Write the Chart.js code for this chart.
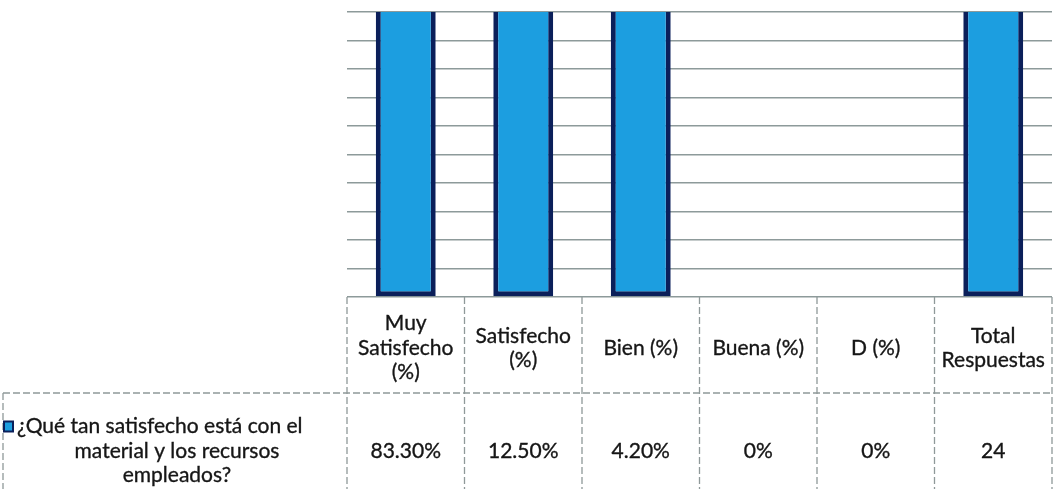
<!DOCTYPE html>
<html>
<head>
<meta charset="utf-8">
<script src="https://cdn.jsdelivr.net/npm/chart.js@4/dist/chart.umd.min.js"></script>
<style>
  html, body { margin: 0; padding: 0; background: #fff; }
  .chart-box { width: 1055px; height: 489px; position: relative; }
</style>
</head>
<body>
<div class="chart-box"><canvas id="chart"></canvas></div>
<script>
// header row of the data table (also the categories)
const categories = [
  ['Muy', 'Satisfecho', '(%)'],
  ['Satisfecho', '(%)'],
  ['Bien (%)'],
  ['Buena (%)'],
  ['D (%)'],
  ['Total', 'Respuestas']
];
const seriesName = ['¿Qué tan satisfecho está con el', 'material y los recursos', 'empleados?'];
const values = [83.3, 12.5, 4.2, 0, 0, 24];
const valueText = ['83.30%', '12.50%', '4.20%', '0%', '0%', '24'];

const FONT = '21px Lato, "Open Sans", sans-serif';
const INK = '#161616';
const LINE = '#8f9999';
const BLUE = '#1c9ee0';
const NAVY = '#0b1f5a';

function inkText(ctx, t, x, y) {
  ctx.fillText(t, x, y);
  ctx.strokeText(t, x, y);
}

// draws the excel-like data table under the plot
const dataTable = {
  id: 'dataTable',
  afterDraw(chart) {
    const { ctx, chartArea } = chart;
    const x = chart.scales.x;
    const n = categories.length;
    const half = (x.getPixelForValue(1) - x.getPixelForValue(0)) / 2;
    const edges = [];
    for (let i = 0; i < n; i++) edges.push(x.getPixelForValue(i) - half);
    edges.push(x.getPixelForValue(n - 1) + half);

    const top = chartArea.bottom;
    const rowLine = top + 96;
    const bottom = chart.height;
    const labelLeft = 3;

    ctx.save();
    ctx.strokeStyle = LINE;
    ctx.lineWidth = 1.3;
    ctx.setLineDash([7, 3]);
    ctx.beginPath();
    edges.forEach(e => { ctx.moveTo(e, top); ctx.lineTo(e, bottom); });
    ctx.moveTo(labelLeft, rowLine); ctx.lineTo(edges[n], rowLine);
    ctx.moveTo(labelLeft, rowLine); ctx.lineTo(labelLeft, bottom);
    ctx.stroke();
    ctx.setLineDash([]);

    ctx.fillStyle = INK;
    ctx.strokeStyle = INK;
    ctx.lineWidth = 0.35;
    ctx.font = FONT;
    ctx.textAlign = 'center';
    ctx.textBaseline = 'middle';
    const lh = 24.5;
    const headMid = top + 51;
    const dataMid = rowLine + 58;
    categories.forEach((lines, i) => {
      const cx = x.getPixelForValue(i);
      const y0 = headMid - (lines.length - 1) * lh / 2;
      lines.forEach((t, k) => inkText(ctx, t, cx, y0 + k * lh));
      inkText(ctx, valueText[i], cx, dataMid);
    });

    // row label with legend key; first line starts right after the key
    const lx = (labelLeft + edges[0]) / 2 + 2;
    const y0 = dataMid - lh;
    seriesName.forEach((t, k) => {
      if (k === 0) {
        ctx.textAlign = 'left';
        inkText(ctx, t, 17, y0);
        ctx.textAlign = 'center';
      } else {
        inkText(ctx, t, lx, y0 + k * lh);
      }
    });
    ctx.fillStyle = BLUE;
    ctx.strokeStyle = NAVY;
    ctx.lineWidth = 2;
    ctx.fillRect(4, y0 - 5, 9, 10);
    ctx.strokeRect(4, y0 - 5, 9, 10);
    ctx.restore();
  }
};

new Chart(document.getElementById('chart'), {
  type: 'bar',
  data: {
    labels: categories,
    datasets: [{
      label: seriesName.join(' '),
      data: values,
      backgroundColor: BLUE,
      borderColor: NAVY,
      borderWidth: 5,
      borderSkipped: false,
      categoryPercentage: 1,
      barPercentage: 0.51
    }]
  },
  options: {
    responsive: true,
    maintainAspectRatio: false,
    animation: false,
    layout: { padding: { left: 347, right: 3, top: 12, bottom: 192 } },
    plugins: { legend: { display: false }, tooltip: { enabled: false } },
    scales: {
      x: { display: false },
      y: {
        min: 0,
        max: 4,
        ticks: { display: false, stepSize: 0.4 },
        grid: { color: '#8d9a9a', lineWidth: 1.5, drawTicks: false },
        border: { display: false }
      }
    }
  },
  plugins: [dataTable]
});
</script>
</body>
</html>
